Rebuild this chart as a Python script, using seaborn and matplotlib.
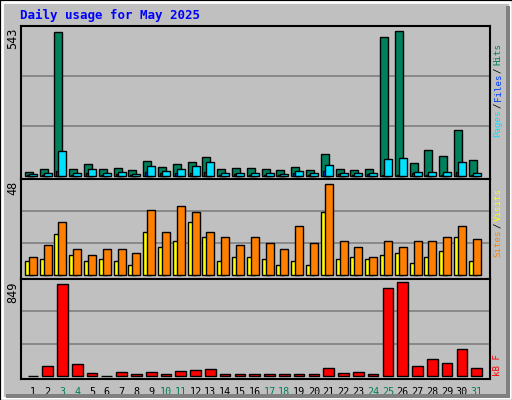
import numpy as np
import pandas as pd
import matplotlib
matplotlib.use("Agg")
import matplotlib.pyplot as plt
import seaborn as sns
from matplotlib.patches import Rectangle

sns.set_style("white")
plt.rcParams['font.family'] = ['DejaVu Sans Mono']

days = list(range(1, 32))
weekend = [3, 4, 10, 11, 17, 18, 24, 25, 31]
hits = [15, 26, 540, 26, 45, 26, 30, 22, 56, 34, 45, 52, 71, 26, 30, 30,
        26, 22, 34, 22, 82, 26, 22, 26, 520, 543, 48, 97, 75, 171, 60]
pages = [8, 12, 93, 10, 26, 10, 15, 8, 37, 20, 26, 37, 52, 12, 12, 10,
         12, 8, 20, 10, 41, 12, 10, 12, 63, 67, 15, 15, 15, 52, 10]
files = [3, 5, 20, 4, 10, 4, 8, 4, 15, 10, 12, 12, 14, 5, 6, 4,
         5, 4, 10, 3, 18, 6, 4, 6, 5, 3, 10, 5, 5, 15, 4]
sites = [7, 8, 21, 10, 7, 8, 7, 5, 22, 14, 17, 27, 19, 7, 9, 9,
         8, 5, 7, 5, 32, 8, 9, 8, 10, 11, 6, 9, 12, 19, 7]
visits = [9, 15, 27, 13, 10, 13, 13, 11, 33, 22, 35, 32, 22, 19, 15, 19,
          16, 13, 25, 16, 46, 17, 14, 9, 17, 14, 17, 17, 19, 25, 18]
kbytes = [3, 87, 830, 105, 31, 3, 40, 22, 40, 22, 50, 59, 68, 22, 22, 22,
          22, 22, 22, 22, 77, 31, 40, 22, 793, 849, 87, 152, 115, 245, 77]

BG = "#C0C0C0"
W, H = 512, 400
fig = plt.figure(figsize=(5.12, 4.0), dpi=100, facecolor=BG)

# frame: white border, dark shadow
fig.patches.append(Rectangle((0, 0), 1, 1, transform=fig.transFigure, fill=False,
                             edgecolor="black", lw=2))
fig.patches.append(Rectangle((2/W, 2/H), 1-4/W, 1-4/H, transform=fig.transFigure,
                             fill=False, edgecolor="white", lw=2))
fig.patches.append(Rectangle((506/W, 2/H), 4/W, 1-8/H, transform=fig.transFigure,
                             color="#808080", lw=0))
fig.patches.append(Rectangle((6/W, 2/H), 1-8/W, 4/H, transform=fig.transFigure,
                             color="#808080", lw=0))


def make_ax(top, bottom):
    ax = fig.add_axes([21/W, 1-bottom/H, 469/W, (bottom-top)/H])
    ax.set_facecolor(BG)
    ax.set_xlim(-0.8, 30.9)
    for s in ax.spines.values():
        s.set_color("black")
        s.set_linewidth(1.5)
    ax.set_xticks([])
    ax.set_yticks([])
    return ax


x = np.arange(31)
px = 1/14.8
ed = dict(edgecolor="black", linewidth=1)

ax1 = make_ax(26, 179)
ymax1 = 543 * 1.035
ax1.set_ylim(-0.02*ymax1, ymax1)
for f in (1/3, 2/3):
    ax1.axhline(ymax1*f, color="#808080", lw=1.2, zorder=0)
ax1.bar(x - 4*px, hits, width=8*px, color="#00805C", **ed)
ax1.bar(x - 2*px, files, width=8*px, color="#0040FF", **ed)
ax1.bar(x, pages, width=8*px, color="#00E0FF", **ed)

ax2 = make_ax(179, 279)
ymax2 = 48 * 1.01
ax2.set_ylim(-0.04*ymax2, ymax2)
for f in (1/3, 2/3):
    ax2.axhline(ymax2*f, color="#808080", lw=1.2, zorder=0)
ax2.bar(x - 4*px, sites, width=8*px, color="#FFFF00", **ed)
ax2.bar(x + 0*px, visits, width=8*px, color="#FF8000", **ed)

ax3 = make_ax(279, 379)
ymax3 = 849 * 1.035
df = pd.DataFrame({"day": [str(d) for d in days], "kB": kbytes})
for f in (1/3, 2/3):
    ax3.axhline(ymax3*f, color="#808080", lw=1.2, zorder=0)
sns.barplot(data=df, x="day", y="kB", color="#FF0000", saturation=1,
            width=0.72, edgecolor="black", linewidth=1, ax=ax3)
ax3.set_xlim(-0.8, 30.9)
ax3.set_ylim(-0.03*ymax3, ymax3)
ax3.set_xlabel("")
ax3.set_ylabel("")
ax3.set_yticks([])
ax3.set_xticks(x)
ax3.set_xticklabels([str(d) for d in days], fontsize=7.3)
ax3.tick_params(axis="x", length=0, pad=6)
for lbl, d in zip(ax3.get_xticklabels(), days):
    lbl.set_color("#00805C" if d in weekend else "black")

fig.text(20/W, 1-15/H, "Daily usage for May 2025", color="#0000FF",
         fontsize=9, fontweight="bold", va="center", ha="left")

for txt, ytop in (("543", 28), ("48", 181), ("849", 282)):
    fig.text(13/W, 1-ytop/H, txt, rotation=90, fontsize=8.5, va="top",
             ha="center", color="black")


def side_label(parts, ybottom):
    # one text per coloured word, stacked bottom to top
    y = ybottom
    for s, c in parts:
        t = fig.text(498/W, 1-y/H, s, rotation=90, fontsize=6.6, color=c,
                     va="bottom", ha="center")
        y -= 5.3*len(s) + 2


side_label([("Pages", "#00E0FF"), ("/", "black"), ("Files", "#0040FF"),
            ("/", "black"), ("Hits", "#00805C")], 137)
side_label([("Sites", "#FF8000"), ("/", "black"), ("Visits", "#FFFF00")], 257)
side_label([("kB F", "#FF0000")], 376)

fig.savefig("out.png", dpi=100, facecolor=BG)
